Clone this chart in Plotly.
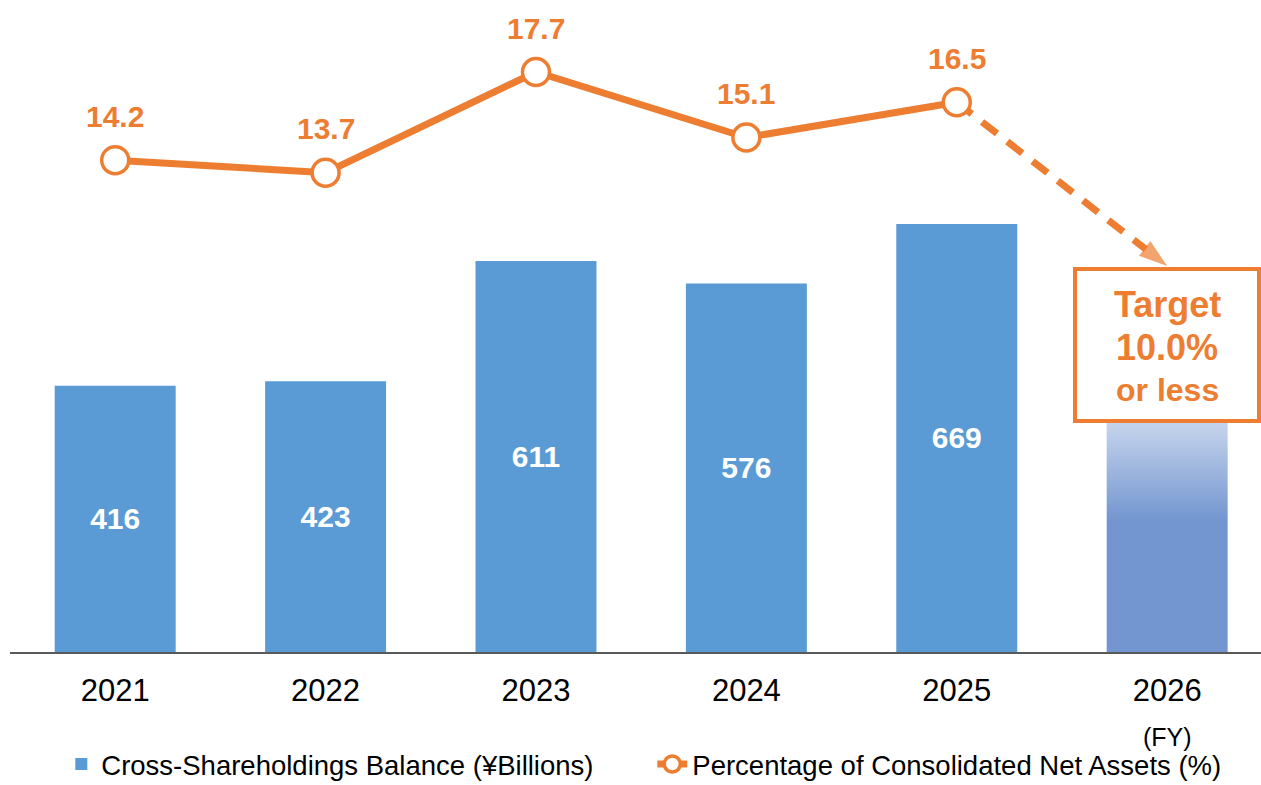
import plotly.graph_objects as go

# ---------------- data ----------------
years = ["2021", "2022", "2023", "2024", "2025", "2026"]
balance = [416, 423, 611, 576, 669]          # ¥ billions, FY2021-2025
balance_2026 = 362                            # faded projection bar (top hidden behind target box)
pct = [14.2, 13.7, 17.7, 15.1, 16.5]          # % of consolidated net assets
target_pct = 10.0
target_lines = ["Target", "%.1f%%" % target_pct, "or less"]
fy_label = "(FY)"
bar_name = "Cross-Shareholdings Balance (¥Billions)"
line_name = "Percentage of Consolidated Net Assets (%)"

BLUE = "#5B9BD5"
ORANGE = "#ED7D31"
FADE_SOLID = "rgb(115,150,208)"
FADE_LIGHT = "rgb(200,214,237)"
FONT = "Liberation Sans, Arial, sans-serif"

idx = list(range(len(years)))
BAR_W = 0.575

fig = go.Figure()

# main bars
fig.add_trace(go.Bar(
    x=idx[:len(balance)], y=balance, name=bar_name, width=BAR_W,
    marker=dict(color=BLUE, line=dict(width=0)),
    text=[str(v) for v in balance], textposition="inside",
    insidetextanchor="middle",
    textfont=dict(color="white", size=30, family=FONT, weight="bold"),
    hoverinfo="skip",
))

# 2026 gradient bar (filled rectangle with vertical gradient)
x0, x1 = idx[5] - BAR_W / 2, idx[5] + BAR_W / 2
fig.add_trace(go.Scatter(
    x=[x0, x1, x1, x0, x0], y=[0, 0, balance_2026, balance_2026, 0],
    mode="none", fill="toself",
    fillgradient=dict(type="vertical",
                      colorscale=[[0, FADE_SOLID], [0.57, FADE_SOLID], [1, FADE_LIGHT]],
                      start=0, stop=balance_2026),
    showlegend=False, hoverinfo="skip",
))

# dashed arrow to target
fig.add_trace(go.Scatter(
    x=[4, 5], y=[pct[-1], target_pct], yaxis="y2", mode="lines+markers",
    line=dict(color=ORANGE, width=7, dash="19px,13px"),
    marker=dict(symbol=["circle", "arrow"], size=[0, 30], color=ORANGE,
                angleref="previous", line=dict(width=0)),
    showlegend=False, hoverinfo="skip",
))

# percentage line
fig.add_trace(go.Scatter(
    x=idx[:len(pct)], y=pct, yaxis="y2", mode="lines+markers", name=line_name,
    line=dict(color=ORANGE, width=7),
    marker=dict(symbol="circle", size=27, color="white",
                line=dict(color=ORANGE, width=3.5)),
    hoverinfo="skip",
))

annotations = []
for i, v in enumerate(pct):
    annotations.append(dict(
        x=i, y=v, xref="x", yref="y2", text=f"{v:.1f}", showarrow=False,
        yshift=44, font=dict(color=ORANGE, size=30, family=FONT, weight="bold"),
    ))

# target box (border) + its three text lines
annotations.append(dict(
    x=5, y=target_pct, xref="x", yref="y2", xanchor="center", yanchor="top",
    yshift=-1, text=" ", showarrow=False,
    width=180, height=148, borderpad=0, borderwidth=4,
    bordercolor=ORANGE, bgcolor="white",
    font=dict(size=10),
))
for line_txt, shift, size in zip(target_lines, [-39, -82, -124], [36, 36, 32]):
    annotations.append(dict(
        x=5, y=target_pct, xref="x", yref="y2", xanchor="center", yanchor="middle",
        yshift=shift, text=line_txt, showarrow=False,
        font=dict(color=ORANGE, size=size, family=FONT, weight="bold"),
    ))

annotations.append(dict(
    x=5, y=0, xref="x", yref="paper", yanchor="middle", yshift=-85,
    text=fy_label, showarrow=False,
    font=dict(color="black", size=25, family=FONT),
))

fig.update_layout(
    width=1261, height=785, autosize=False,
    margin=dict(l=10, r=0, t=0, b=133, autoexpand=False),
    paper_bgcolor="white", plot_bgcolor="white",
    barmode="overlay",
    font=dict(family=FONT, color="black"),
    xaxis=dict(
        range=[-0.5, 5.446], tickmode="array", tickvals=idx, ticktext=years,
        showline=True, linecolor="#595959", linewidth=1.5,
        showgrid=False, zeroline=False, ticks="",
        tickfont=dict(size=31, color="black", family=FONT),
        ticklabelstandoff=10,
    ),
    yaxis=dict(range=[0, 1019], visible=False, showgrid=False, zeroline=False),
    yaxis2=dict(range=[-5.33, 20.56], overlaying="y", visible=False,
                showgrid=False, zeroline=False),
    showlegend=True,
    legend=dict(
        orientation="h", x=0.041, xanchor="left", y=-0.172, yanchor="middle",
        font=dict(size=27.5, color="black", family=FONT),
        entrywidth=546, bgcolor="rgba(0,0,0,0)", itemsizing="trace",
        traceorder="normal",
    ),
    annotations=annotations,
)

fig.write_html("out.html")
